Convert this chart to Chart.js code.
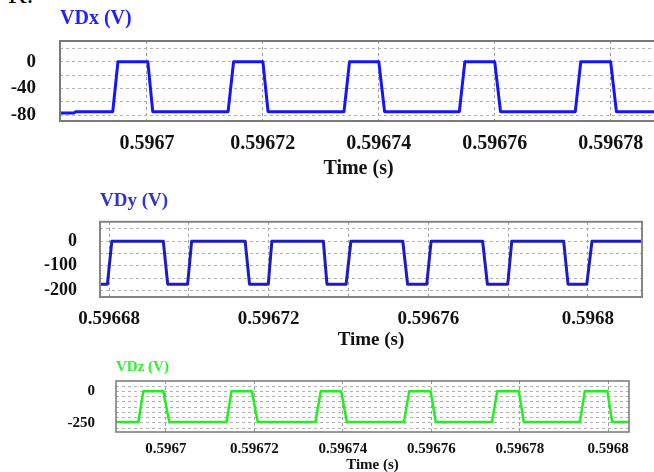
<!DOCTYPE html>
<html>
<head>
<meta charset="utf-8">
<script src="https://cdn.jsdelivr.net/npm/chart.js@4/dist/chart.umd.min.js"></script>
<style>
  html, body { margin: 0; padding: 0; background: #fff; }
  body { width: 654px; height: 472px; overflow: hidden; position: relative; }
  canvas { position: absolute; left: 0; }
  #tag { position: absolute; left: 8px; top: -18px; font: 26px/26px 'Liberation Serif', 'Times New Roman', serif; color: #000; }
</style>
</head>
<body>
<div id="tag">K.</div>
<canvas id="cx" width="660" height="181" style="top:0px"></canvas>
<canvas id="cy" width="654" height="170" style="top:181px"></canvas>
<canvas id="cz" width="654" height="123" style="top:351px"></canvas>
<script>
// ---- VDx: drain voltage of switch x ----
const timeX = [0.59668494, 0.59668740, 0.59668770,
  0.59669410, 0.59669500, 0.59670015, 0.59670100,
  0.59671400, 0.59671495, 0.59672000, 0.59672090,
  0.59673400, 0.59673495, 0.59674000, 0.59674100,
  0.59675390, 0.59675485, 0.59676000, 0.59676100,
  0.59677390, 0.59677485, 0.59678000, 0.59678100,
  0.59678800];
const voltX = [-77, -77, -75,
  -75, 0, 0, -75,
  -75, 0, 0, -75,
  -75, 0, 0, -75,
  -75, 0, 0, -75,
  -75, 0, 0, -75,
  -75];
const xTicksX = [0.5967, 0.59672, 0.59674, 0.59676, 0.59678];
const xLabelsX = ['0.5967', '0.59672', '0.59674', '0.59676', '0.59678'];
const yTicksX = [20, 0, -20, -40, -60, -80];
const yLabelsX = ['', '0', '', '-40', '', '-80'];

// ---- VDy: drain voltage of switch y ----
const timeY = [0.59667774,
  0.59667960, 0.59668070, 0.59669360, 0.59669470,
  0.59669970, 0.59670070, 0.59671410, 0.59671520,
  0.59671990, 0.59672080, 0.59673370, 0.59673460,
  0.59673940, 0.59674060, 0.59675360, 0.59675480,
  0.59675960, 0.59676070, 0.59677360, 0.59677480,
  0.59677990, 0.59678090, 0.59679390, 0.59679500,
  0.59679970, 0.59680100,
  0.59681350];
const voltY = [-175,
  -175, 0, 0, -175,
  -175, 0, 0, -175,
  -175, 0, 0, -175,
  -175, 0, 0, -175,
  -175, 0, 0, -175,
  -175, 0, 0, -175,
  -175, 0,
  0];
const xTicksY = [0.59668, 0.5967, 0.59672, 0.59674, 0.59676, 0.59678, 0.5968];
const xLabelsY = ['0.59668', '', '0.59672', '', '0.59676', '', '0.5968'];
const yTicksY = [50, 0, -50, -100, -150, -200];
const yLabelsY = ['', '0', '', '-100', '', '-200'];

// ---- VDz: drain voltage of switch z ----
const timeZ = [0.59668870,
  0.59669374, 0.59669487, 0.59669939, 0.59670075,
  0.59671370, 0.59671480, 0.59671940, 0.59672075,
  0.59673380, 0.59673500, 0.59673960, 0.59674090,
  0.59675380, 0.59675500, 0.59675985, 0.59676100,
  0.59677370, 0.59677490, 0.59677980, 0.59678090,
  0.59679360, 0.59679470, 0.59679980, 0.59680090,
  0.59680468];
const voltZ = [-243,
  -243, 0, 0, -243,
  -243, 0, 0, -243,
  -243, 0, 0, -243,
  -243, 0, 0, -243,
  -243, 0, 0, -243,
  -243, 0, 0, -243,
  -243];
const xTicksZ = [0.5967, 0.59672, 0.59674, 0.59676, 0.59678, 0.5968];
const xLabelsZ = ['0.5967', '0.59672', '0.59674', '0.59676', '0.59678', '0.5968'];
const yTicksZ = [41.7, 0, -41.7, -83.3, -125, -166.7, -208.3, -250, -291.7];
const yLabelsZ = ['', '0', '', '', '', '', '', '-250', ''];

const SERIF = "'Liberation Serif', 'Times New Roman', serif";

// box drawn around the plotting area, on top of the trace
const frame = {
  id: 'frame',
  afterDatasetsDraw(chart, args, opts) {
    const a = chart.chartArea, ctx = chart.ctx;
    ctx.save();
    ctx.strokeStyle = opts.color;
    ctx.lineWidth = opts.width;
    ctx.setLineDash([]);
    ctx.strokeRect(a.left, a.top, a.right - a.left, a.bottom - a.top);
    ctx.restore();
  }
};

function scope(id, cfg) {
  const pts = cfg.t.map((t, i) => ({ x: t, y: cfg.v[i] }));
  return new Chart(document.getElementById(id), {
    type: 'line',
    data: { datasets: [{
      data: pts,
      borderColor: cfg.lineColor,
      borderWidth: cfg.lineWidth,
      pointRadius: 0,
      tension: 0,
      fill: false,
      borderJoinStyle: 'round'
    }]},
    plugins: [frame],
    options: {
      responsive: false,
      animation: false,
      events: [],
      layout: { padding: { left: 0, right: cfg.padRight, top: 0, bottom: 0 } },
      plugins: {
        legend: { display: false },
        tooltip: { enabled: false },
        frame: { color: cfg.frameColor, width: cfg.frameWidth },
        title: {
          display: true,
          text: cfg.title,
          align: 'start',
          fullSize: false,
          color: cfg.titleColor,
          font: { family: SERIF, size: cfg.titleSize, weight: 'bold' },
          padding: { top: cfg.titlePadTop, bottom: cfg.titlePadBottom }
        }
      },
      scales: {
        x: {
          type: 'linear',
          min: cfg.xMin,
          max: cfg.xMax,
          afterBuildTicks: axis => { axis.ticks = cfg.xTicks.map(v => ({ value: v })); },
          afterFit: axis => { axis.height = cfg.xAxisHeight; },
          grid: { color: '#9a9a9a', lineWidth: 1, drawTicks: false },
          border: { display: false, dash: [3, 3] },
          ticks: {
            autoSkip: false,
            maxRotation: 0,
            padding: cfg.xTickPad,
            color: '#111',
            font: { family: SERIF, size: cfg.xTickSize, weight: 'bold' },
            callback: (val, i) => cfg.xLabels[i]
          },
          title: {
            display: true,
            text: 'Time (s)',
            color: '#111',
            font: { family: SERIF, size: cfg.xTitleSize, weight: 'bold' },
            padding: { top: 0, bottom: 0 }
          }
        },
        y: {
          type: 'linear',
          min: cfg.yMin,
          max: cfg.yMax,
          afterBuildTicks: axis => { axis.ticks = cfg.yTicks.map(v => ({ value: v })); },
          afterFit: axis => { axis.width = cfg.yAxisWidth; },
          grid: { color: '#b2b2b2', lineWidth: 1, drawTicks: false },
          border: { display: false, dash: [3, 3] },
          ticks: {
            autoSkip: false,
            padding: cfg.yTickPad,
            color: '#111',
            font: { family: SERIF, size: cfg.yTickSize, weight: 'bold' },
            callback: (val, i) => cfg.yLabels[i]
          }
        }
      }
    }
  });
}

scope('cx', {
  t: timeX, v: voltX, title: 'VDx (V)',
  lineColor: '#1414ff', lineWidth: 3, titleColor: '#1f1fff', titleSize: 20,
  titlePadTop: 7, titlePadBottom: 10,
  frameColor: '#7a7a7a', frameWidth: 2, padRight: 3,
  xMin: 0.596685, xMax: 0.596788, xTicks: xTicksX, xLabels: xLabelsX,
  xAxisHeight: 60, xTickPad: 11, xTickSize: 20, xTitleSize: 20,
  yMin: -89, yMax: 31, yTicks: yTicksX, yLabels: yLabelsX,
  yAxisWidth: 60, yTickPad: 24, yTickSize: 19
});

scope('cy', {
  t: timeY, v: voltY, title: 'VDy (V)',
  lineColor: '#1c1cc4', lineWidth: 3, titleColor: '#3434c8', titleSize: 19,
  titlePadTop: 9, titlePadBottom: 9,
  frameColor: '#858585', frameWidth: 2, padRight: 12,
  xMin: 0.59667774, xMax: 0.59681353, xTicks: xTicksY, xLabels: xLabelsY,
  xAxisHeight: 54, xTickPad: 11, xTickSize: 19, xTitleSize: 19,
  yMin: -227, yMax: 79, yTicks: yTicksY, yLabels: yLabelsY,
  yAxisWidth: 100, yTickPad: 23, yTickSize: 18
});

scope('cz', {
  t: timeZ, v: voltZ, title: 'VDz (V)',
  lineColor: '#22ee22', lineWidth: 2.5, titleColor: '#2ef02e', titleSize: 15,
  titlePadTop: 4, titlePadBottom: 5,
  frameColor: '#777777', frameWidth: 1.5, padRight: 25,
  xMin: 0.5966887, xMax: 0.5968047, xTicks: xTicksZ, xLabels: xLabelsZ,
  xAxisHeight: 42, xTickPad: 8, xTickSize: 15, xTitleSize: 15,
  yMin: -322, yMax: 82, yTicks: yTicksZ, yLabels: yLabelsZ,
  yAxisWidth: 116, yTickPad: 21, yTickSize: 15
});
</script>
</body>
</html>
